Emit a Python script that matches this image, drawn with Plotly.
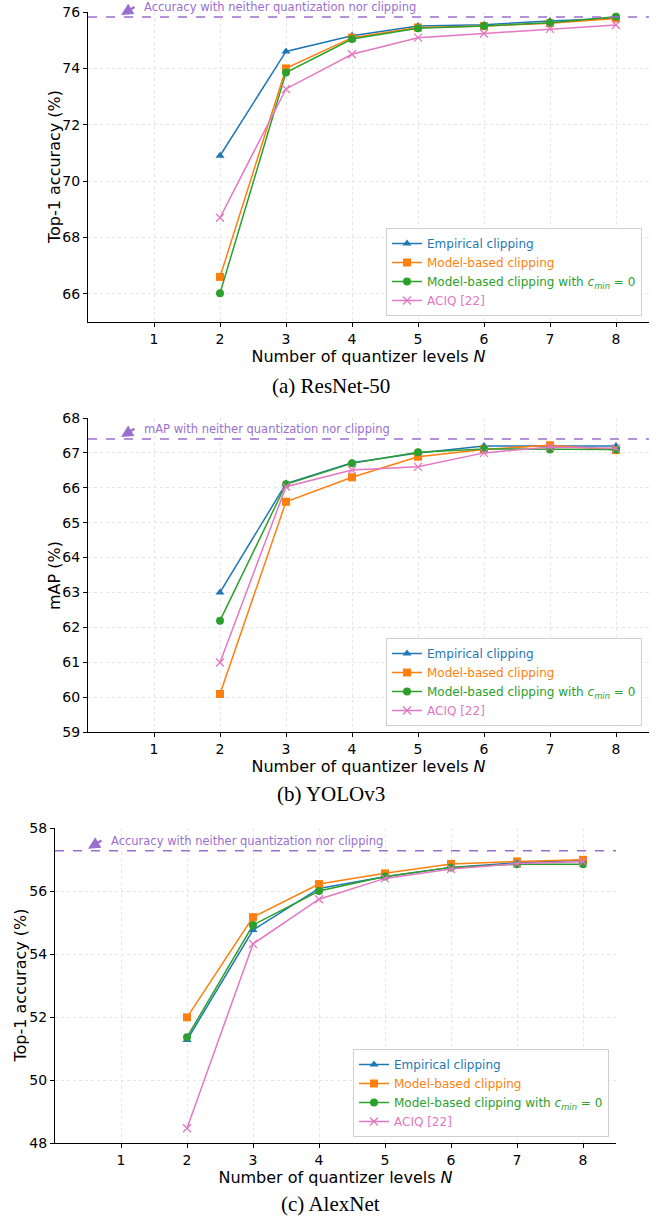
import plotly.graph_objects as go

N = [2, 3, 4, 5, 6, 7, 8]
x_ticks = [1, 2, 3, 4, 5, 6, 7, 8]

series_names = ["Empirical clipping", "Model-based clipping",
                "Model-based clipping with <i>c</i><sub><i>min</i></sub> = 0", "ACIQ [22]"]
colors = ["#1f77b4", "#ff7f0e", "#2ca02c", "#e377c2"]
symbols = ["triangle-up", "square", "circle", "x-thin"]

# (a) ResNet-50
resnet_emp = [70.9, 74.6, 75.16, 75.5, 75.55, 75.68, 75.78]
resnet_mod = [66.6, 74.0, 75.09, 75.45, 75.5, 75.6, 75.77]
resnet_cmin = [66.02, 73.85, 75.04, 75.42, 75.5, 75.62, 75.83]
resnet_aciq = [68.7, 73.27, 74.5, 75.09, 75.24, 75.4, 75.54]
resnet_ref = 75.82

# (b) YOLOv3
yolo_emp = [63.0, 66.12, 66.72, 67.0, 67.2, 67.2, 67.2]
yolo_mod = [60.09, 65.6, 66.3, 66.89, 67.1, 67.22, 67.08]
yolo_cmin = [62.19, 66.1, 66.7, 67.02, 67.11, 67.1, 67.1]
yolo_aciq = [60.99, 66.03, 66.51, 66.6, 67.0, 67.17, 67.13]
yolo_ref = 67.4

# (c) AlexNet
alex_emp = [51.27, 54.76, 56.08, 56.45, 56.75, 56.9, 56.98]
alex_mod = [51.99, 55.17, 56.22, 56.56, 56.86, 56.94, 56.99]
alex_cmin = [51.36, 54.92, 56.0, 56.46, 56.75, 56.85, 56.85]
alex_aciq = [48.47, 54.32, 55.74, 56.4, 56.7, 56.87, 56.93]
alex_ref = 57.28

W, H = 661, 1217
FONT = "DejaVu Sans"
REFC = "#9a6fd0"

panels = [
    dict(data=[resnet_emp, resnet_mod, resnet_cmin, resnet_aciq], ref=resnet_ref,
         xpx=(88, 649), ypx=(12, 322), yr=[65, 76], yt=[66, 68, 70, 72, 74, 76],
         ytitle="Top-1 accuracy (%)", ref_text="Accuracy with neither quantization nor clipping",
         caption="(a) ResNet-50", cap_y=386, leg=(642, 316), ytx=54),
    dict(data=[yolo_emp, yolo_mod, yolo_cmin, yolo_aciq], ref=yolo_ref,
         xpx=(88, 649), ypx=(418, 732), yr=[59, 68], yt=list(range(59, 69)),
         ytitle="mAP (%)", ref_text="mAP with neither quantization nor clipping",
         caption="(b) YOLOv3", cap_y=794, leg=(642, 726), ytx=54),
    dict(data=[alex_emp, alex_mod, alex_cmin, alex_aciq], ref=alex_ref,
         xpx=(55, 616), ypx=(828, 1143), yr=[48, 58], yt=[48, 50, 52, 54, 56, 58],
         ytitle="Top-1 accuracy (%)", ref_text="Accuracy with neither quantization nor clipping",
         caption="(c) AlexNet", cap_y=1204, leg=(609, 1137), ytx=20),
]

fig = go.Figure()
layout = dict(width=W, height=H, margin=dict(l=0, r=0, t=0, b=0),
              plot_bgcolor="white", paper_bgcolor="white",
              font=dict(family=FONT, size=14, color="black"))
shapes = []
annotations = []

for i, p in enumerate(panels):
    k = "" if i == 0 else str(i + 1)
    xa, ya = "x" + k, "y" + k
    leg = "legend" + k
    for j in range(4):
        fig.add_trace(go.Scatter(
            x=N, y=p["data"][j], xaxis=xa, yaxis=ya, mode="lines+markers",
            name="<span style='color:%s'>%s</span>" % (colors[j], series_names[j]),
            line=dict(color=colors[j], width=1.5),
            marker=dict(symbol=symbols[j], size=8, color=colors[j],
                        line=dict(color=colors[j], width=1.3 if j == 3 else 0)),
            legend=leg, cliponaxis=False))
    x0, x1 = p["xpx"][0] / W, p["xpx"][1] / W
    y0, y1 = 1 - p["ypx"][1] / H, 1 - p["ypx"][0] / H
    axis_common = dict(showgrid=True, gridcolor="#e6e6e6", griddash="dot", gridwidth=1,
                       showline=True, linecolor="black", linewidth=1.3,
                       ticks="outside", ticklen=4, tickcolor="black",
                       zeroline=False, automargin=False,
                       tickfont=dict(family=FONT, size=14))
    layout["xaxis" + k] = dict(axis_common, domain=[x0, x1], range=[0, 8.5],
                               tickvals=x_ticks, anchor=ya,
                               title=dict(text="Number of quantizer levels <i>N</i>",
                                          font=dict(family=FONT, size=16), standoff=1))
    layout["yaxis" + k] = dict(axis_common, domain=[y0, y1], range=p["yr"],
                               tickvals=p["yt"], anchor=xa)
    layout[leg] = dict(x=p["leg"][0] / W, y=1 - p["leg"][1] / H, xanchor="right",
                       yanchor="bottom", bgcolor="white", bordercolor="#d0d0d0",
                       borderwidth=1, font=dict(family=FONT, size=12),
                       itemwidth=30, tracegroupgap=0)
    shapes.append(dict(type="line", xref=xa + " domain", yref=ya, x0=0, x1=1,
                       y0=p["ref"], y1=p["ref"],
                       line=dict(color=REFC, width=1.5, dash="dash")))
    px_per_y = (p["ypx"][1] - p["ypx"][0]) / (p["yr"][1] - p["yr"][0])
    ref_px = p["ypx"][0] + (p["yr"][1] - p["ref"]) * px_per_y
    # y-axis title
    annotations.append(dict(x=p["ytx"] / W, y=(y0 + y1) / 2, xref="paper", yref="paper",
                            text=p["ytitle"], textangle=-90, showarrow=False,
                            xanchor="center", yanchor="middle",
                            font=dict(family=FONT, size=16, color="black")))
    # arrow and text for the reference line
    annotations.append(dict(x=0.5, y=p["ref"] + 2 / px_per_y, xref=xa, yref=ya, ax=15, ay=-9,
                            text="", showarrow=True, arrowhead=2, arrowsize=1,
                            arrowwidth=2.4, arrowcolor=REFC))
    annotations.append(dict(x=p["xpx"][0] / W + 0.82 * (p["xpx"][1] - p["xpx"][0]) / 8.5 / W,
                            y=1 - (ref_px - 10) / H, xref="paper", yref="paper",
                            text=p["ref_text"], showarrow=False, xanchor="left",
                            yanchor="middle",
                            font=dict(family=FONT, size=11.5, color=REFC)))
    annotations.append(dict(x=0.5, y=1 - p["cap_y"] / H, xref="paper", yref="paper",
                            text=p["caption"], showarrow=False, xanchor="center",
                            yanchor="middle",
                            font=dict(family="Liberation Serif", size=21, color="black")))

layout["shapes"] = shapes
layout["annotations"] = annotations
fig.update_layout(**layout)
fig.write_html("out.html", config={"displayModeBar": False},
               post_script="document.body.style.margin='0';document.body.style.overflow='hidden';")
